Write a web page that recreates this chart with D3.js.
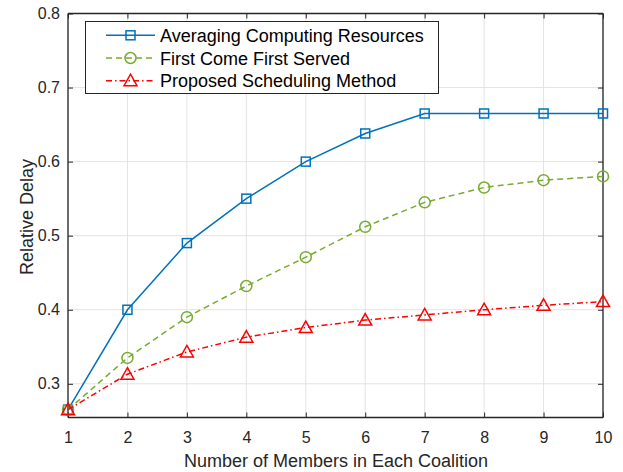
<!DOCTYPE html>
<html><head><meta charset="utf-8">
<script src="https://cdn.jsdelivr.net/npm/d3@7/dist/d3.min.js"></script>
<style>body{margin:0;background:#fff}svg{display:block}text{font-family:"Liberation Sans",Arial,sans-serif}</style>
</head><body><svg id="c" width="623" height="472"></svg>
<script>
const members = [1,2,3,4,5,6,7,8,9,10];
const averaging = [0.265,0.400,0.490,0.550,0.600,0.638,0.665,0.665,0.665,0.665];
const fcfs = [0.265,0.335,0.390,0.432,0.471,0.512,0.545,0.565,0.575,0.580];
const proposed = [0.265,0.313,0.343,0.363,0.376,0.386,0.393,0.400,0.406,0.411];
const seriesNames = ["Averaging Computing Resources","First Come First Served","Proposed Scheduling Method"];
const yTicks = [0.3,0.4,0.5,0.6,0.7,0.8];
const xTicks = [1,2,3,4,5,6,7,8,9,10];

const svg = d3.select("#c");
const L=68, R=603, T=13.5, B=417.5;
const x = d3.scaleLinear().domain([1,10]).range([L,R]);
const y = d3.scaleLinear().domain([0.2545,0.8]).range([B,T]);
const axc = "#262626";

// grid
const g = svg.append("g");
g.selectAll(".gx").data(xTicks).join("line").attr("x1",d=>x(d)).attr("x2",d=>x(d)).attr("y1",T).attr("y2",B).attr("stroke","#e3e3e3");
g.selectAll(".gy").data(yTicks).join("line").attr("y1",d=>y(d)).attr("y2",d=>y(d)).attr("x1",L).attr("x2",R).attr("stroke","#e3e3e3");

// axes
const ax = d3.axisBottom(x).tickValues(xTicks).tickSize(-5).tickPadding(14).tickFormat(d3.format("d"));
const ay = d3.axisLeft(y).tickValues(yTicks).tickSize(-5).tickPadding(8).tickFormat(d3.format(".1f"));
const axT = d3.axisTop(x).tickValues(xTicks).tickSize(-5).tickFormat("");
const ayR = d3.axisRight(y).tickValues(yTicks).tickSize(-5).tickFormat("");
function style(s){s.select(".domain").attr("stroke",axc).attr("stroke-width",1.3);s.selectAll(".tick line").attr("stroke",axc);s.selectAll("text").attr("fill",axc).attr("font-size",16);}
svg.append("g").attr("transform",`translate(0,${B})`).call(ax).call(style).call(s=>s.select(".domain").attr("d",`M${L},0H${R}`));
svg.append("g").attr("transform",`translate(${L},0)`).call(ay).call(style).call(s=>s.select(".domain").attr("d",`M0,${B}V${T}`));
svg.append("g").attr("transform",`translate(0,${T})`).call(axT).call(style).call(s=>s.select(".domain").attr("d",`M${L},0H${R}`));
svg.append("g").attr("transform",`translate(${R},0)`).call(ayR).call(style).call(s=>s.select(".domain").attr("d",`M0,${B}V${T}`));

svg.append("text").attr("x",336).attr("y",467).attr("text-anchor","middle").attr("font-size",18).attr("fill",axc).text("Number of Members in Each Coalition");
svg.append("text").attr("transform",`translate(32.5,217) rotate(-90)`).attr("text-anchor","middle").attr("font-size",18).attr("fill",axc).text("Relative Delay");

const series = [
 {v:averaging,c:"#0072BD",dash:null,m:"square"},
 {v:fcfs,c:"#77AC30",dash:"6,4",m:"circle"},
 {v:proposed,c:"#FF0000",dash:"6,3,1.5,3",m:"triangle"}
];
function marker(sel,m,c){
  if(m==="square") sel.append("rect").attr("x",-4.5).attr("y",-4.5).attr("width",9).attr("height",9);
  else if(m==="circle") sel.append("circle").attr("r",5.5);
  else sel.append("path").attr("d","M0,-6.5L6.5,5L-6.5,5Z");
  sel.selectAll("rect,circle,path").attr("fill","none").attr("stroke",c).attr("stroke-width",1.5);
}
const line = d3.line().x((d,i)=>x(members[i])).y(d=>y(d));
series.forEach(s=>{
  svg.append("path").datum(s.v).attr("d",line).attr("fill","none").attr("stroke",s.c).attr("stroke-width",1.5).attr("stroke-dasharray",s.dash);
  s.v.forEach((d,i)=>{ const gm=svg.append("g").attr("transform",`translate(${x(members[i])},${y(d)})`); marker(gm,s.m,s.c); });
});

// legend
const lg = svg.append("g");
lg.append("rect").attr("x",85.5).attr("y",21.5).attr("width",353).attr("height",72).attr("fill","#fff").attr("stroke",axc).attr("stroke-width",1);
seriesNames.forEach((n,i)=>{
  const yy = 35.3+i*22.7, s=series[i];
  lg.append("line").attr("x1",106).attr("x2",155).attr("y1",yy).attr("y2",yy).attr("stroke",s.c).attr("stroke-width",1.5).attr("stroke-dasharray",s.dash);
  const gm=lg.append("g").attr("transform",`translate(130.5,${yy})`); marker(gm,s.m,s.c);
  lg.append("text").attr("x",160).attr("y",yy+6.5).attr("font-size",18).attr("fill","#000").text(n);
});
</script></body></html>
